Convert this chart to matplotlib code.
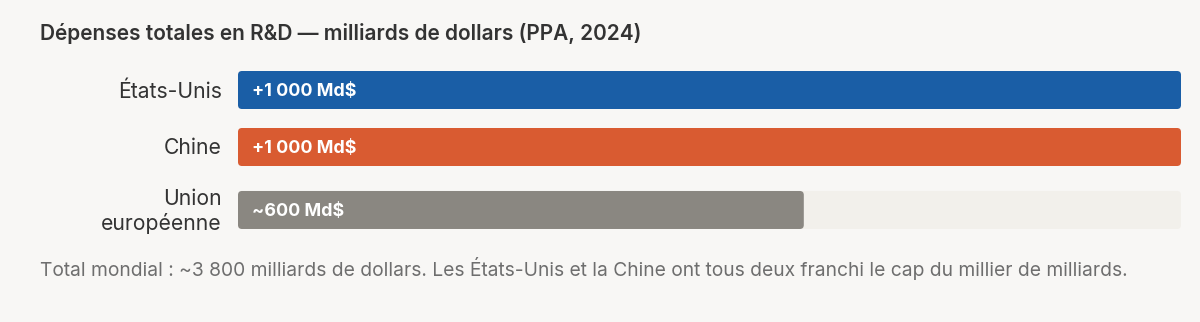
import matplotlib
matplotlib.use("Agg")
import matplotlib.pyplot as plt
from matplotlib.patches import FancyBboxPatch

categories = ["États-Unis", "Chine", "Union\neuropéenne"]
values = [1000, 1000, 600]
value_labels = ["+1 000 Md$", "+1 000 Md$", "~600 Md$"]
colors = ["#1a5ea6", "#d95b31", "#8a8781"]
title = "Dépenses totales en R&D — milliards de dollars (PPA, 2024)"
footer = ("Total mondial : ~3 800 milliards de dollars. Les États-Unis et la Chine "
          "ont tous deux franchi le cap du millier de milliards.")

BG = "#f8f7f5"
TRACK = "#f2f0eb"
W, H = 1200, 322
plt.rcParams['font.family'] = ['Inter', 'DejaVu Sans']

fig = plt.figure(figsize=(W / 100, H / 100), dpi=100, facecolor=BG)

ax_left, ax_right = 238, 1181
ax_top, ax_bot = 60, 240
ax = fig.add_axes([ax_left / W, 1 - ax_bot / H, (ax_right - ax_left) / W, (ax_bot - ax_top) / H])
ax.set_facecolor(BG)
ax.axis("off")

xmax = 1000
px_per_x = (ax_right - ax_left) / xmax
row_px = 57
first_center = 90
ypos = [0, 1, 2.105]
bar_h = 38 / row_px
ax.set_xlim(0, xmax)
ax.set_ylim((ax_bot - first_center) / row_px, (ax_top - first_center) / row_px)

radius_px = 4
r = radius_px / px_per_x
aspect = (radius_px / row_px) / r
dy = 1.5 / row_px


def rbar(y, w, color):
    p = FancyBboxPatch((0, y - bar_h / 2), w, bar_h,
                       boxstyle=f"round,pad=0,rounding_size={r}",
                       mutation_aspect=aspect, facecolor=color, edgecolor="none")
    ax.add_patch(p)


for y, v, lab, c, cat in zip(ypos, values, value_labels, colors, categories):
    rbar(y, xmax, TRACK)
    rbar(y, v, c)
    ax.text(14 / px_per_x, y + dy, lab, color="white", fontsize=12.9, fontweight="bold",
            va="center", ha="left")
    ax.text(-16 / px_per_x, y + dy, cat, color="#333333", fontsize=15.2, va="center", ha="right",
            linespacing=1.22)

fig.text(40 / W, 1 - 33 / H, title, fontsize=15.0, fontweight="semibold", color="#333333",
         va="center", ha="left")
fig.text(40 / W, 1 - 269 / H, footer, fontsize=13.85, color="#6e6e6e", va="center", ha="left")

fig.savefig("out.png", dpi=100, facecolor=BG)
